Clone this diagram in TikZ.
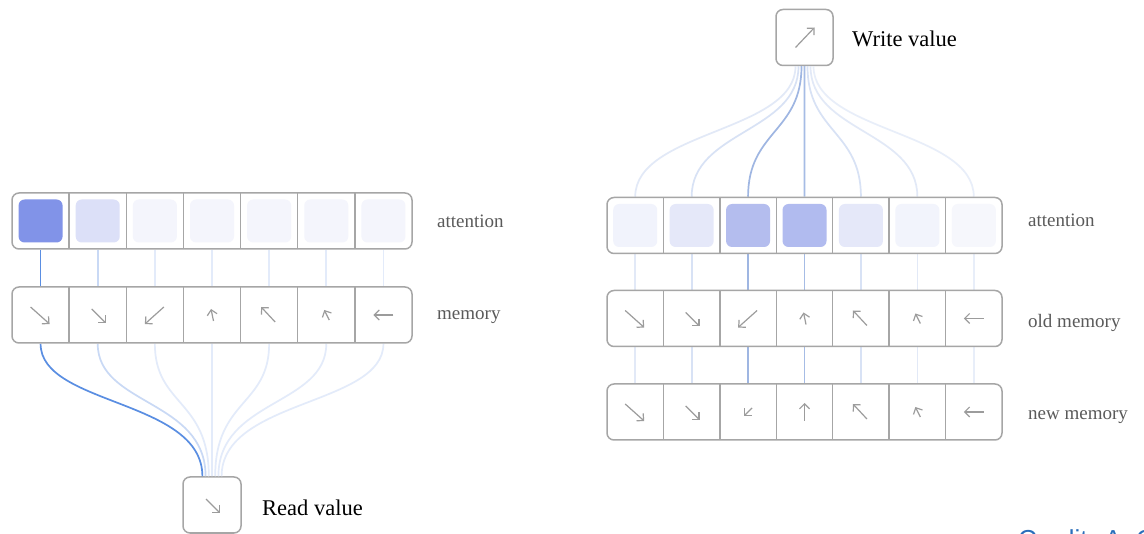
\documentclass[tikz,border=0pt]{standalone}
\usepackage{fontspec}
\setmainfont{Liberation Serif}
\newfontfamily\creditfont{Liberation Sans}
\usetikzlibrary{arrows.meta,calc}
\definecolor{boxgray}{HTML}{A6A6A6}
\definecolor{arrgray}{HTML}{9C9C9C}
\definecolor{labgray}{HTML}{5A5A5A}
\definecolor{creditblue}{HTML}{2A6EBB}
% left attention fills and lines
\definecolor{LA1}{HTML}{8193E8}
\definecolor{LA2}{HTML}{DCE0F8}
\definecolor{LA3}{HTML}{F4F5FC}
\definecolor{LA4}{HTML}{F4F5FC}
\definecolor{LA5}{HTML}{F4F5FC}
\definecolor{LA6}{HTML}{F4F5FC}
\definecolor{LA7}{HTML}{F4F5FC}
\definecolor{LL1}{HTML}{5A8EE2}
\definecolor{LL2}{HTML}{C9D9F5}
\definecolor{LL3}{HTML}{E3EBFA}
\definecolor{LL4}{HTML}{E3EBFA}
\definecolor{LL5}{HTML}{E3EBFA}
\definecolor{LL6}{HTML}{E3EBFA}
\definecolor{LL7}{HTML}{E3EBFA}
% right attention fills and lines
\definecolor{RA1}{HTML}{F1F3FC}
\definecolor{RA2}{HTML}{E5E8F9}
\definecolor{RA3}{HTML}{B4BDEE}
\definecolor{RA4}{HTML}{B1BBEF}
\definecolor{RA5}{HTML}{E5E8F9}
\definecolor{RA6}{HTML}{F2F4FC}
\definecolor{RA7}{HTML}{F6F7FC}
\definecolor{RL1}{HTML}{E2E9F7}
\definecolor{RL2}{HTML}{D8E2F5}
\definecolor{RL3}{HTML}{9FB6E2}
\definecolor{RL4}{HTML}{A6BCE5}
\definecolor{RL5}{HTML}{D8E2F5}
\definecolor{RL6}{HTML}{E2E9F7}
\definecolor{RL7}{HTML}{E8EEF9}
\begin{document}
\begin{tikzpicture}[x=1pt,y=-1pt,
  lcell/.style={inner sep=0pt,outer xsep=0pt,outer ysep=0.75pt,minimum width=57.143pt,minimum height=56pt},
  rcell/.style={inner sep=0pt,outer xsep=0pt,outer ysep=0.75pt,minimum width=56.43pt,minimum height=56pt},
  rowbox/.style={draw=boxgray,line width=1.5pt,rounded corners=7pt,inner sep=0pt,minimum height=56pt},
  sq/.style={rounded corners=6pt,minimum width=44pt,minimum height=43pt,inner sep=0pt},
  divider/.style={draw=boxgray,line width=1.5pt},
  conn/.style={line width=1.7pt},
  vec/.style={draw=arrgray,line width=1.2pt,-{Straight Barb[length=5pt,width=10pt]}},
  lab/.style={text=labgray,font=\fontsize{19}{22}\selectfont,anchor=base west,inner sep=0pt},
  valtext/.style={text=black,font=\fontsize{22.5}{26}\selectfont,anchor=base west,inner sep=0pt},
  valbox/.style={draw=boxgray,line width=1.5pt,rounded corners=7pt,fill=white,minimum width=57pt,minimum height=56pt,inner sep=0pt}]
\fill[white] (0,0) rectangle (1144,534);
\useasboundingbox (0,0) rectangle (1144,534);

% ---------------- left: reading ----------------
\foreach \i in {1,...,7}{
  \pgfmathsetmacro\cx{12+57.143*(\i-0.5)}
  \node[lcell] (La\i) at (\cx,221) {};
  \node[lcell] (Lm\i) at (\cx,315) {};
}
\node[valbox,minimum width=58pt] (read) at (212,505) {};
\foreach \i in {1,...,7}{
  \coordinate (rin\i) at ($(read.north)+({3.2*(\i-4)},0)$);
}
\foreach \i in {7,6,5,4,3,2,1}{
  \draw[conn,draw=LL\i] (La\i.south) -- (Lm\i.north);
  \draw[conn,draw=LL\i] (Lm\i.south) .. controls +(0,62) and +(0,-77) .. (rin\i);
}
\node[rowbox,minimum width=400pt] (Latt) at (212,221) {};
\node[rowbox,minimum width=400pt] (Lmem) at (212,315) {};
\foreach \i in {1,...,6}{
  \draw[divider] ([yshift=28pt]La\i.east) -- ([yshift=-28pt]La\i.east);
  \draw[divider] ([yshift=28pt]Lm\i.east) -- ([yshift=-28pt]Lm\i.east);
}
\foreach \i in {1,...,7}{
  \node[sq,fill=LA\i] (Laf\i) at (La\i) {};
}
\foreach \i/\ax/\ay/\bx/\by in {1/-10/-8/9/9, 2/-6/-6/8/8, 3/9/-8/-10/9, 4/1.5/6/-1/-6, 5/6/7/-8/-8, 6/3/5/-2/-5, 7/10/0/-10/0}{
  \draw[vec] ([shift={(\ax,\ay)}]Lm\i.center) -- ([shift={(\bx,\by)}]Lm\i.center);
}
\draw[vec] ([shift={(-6,-6)}]read.center) -- ([shift={(8,8)}]read.center);
\node[lab] (Lattlab) at (437,228) {attention};
\node[lab] (Lmemlab) at (437,320) {memory};
\node[valtext] (readlab) at (262,515) {Read value};

% ---------------- right: writing ----------------
\foreach \i in {1,...,7}{
  \pgfmathsetmacro\cx{607+56.43*(\i-0.5)}
  \node[rcell] (Ra\i) at (\cx,225.5) {};
  \node[rcell] (Ro\i) at (\cx,318.5) {};
  \node[rcell] (Rn\i) at (\cx,412) {};
}
\node[valbox] (write) at (804.5,37.5) {};
\foreach \i in {1,...,7}{
  \coordinate (win\i) at ($(write.south)+({3*(\i-4)},0)$);
}
\foreach \i in {7,1,6,2,5,4,3}{
  \draw[conn,draw=RL\i] (Ra\i.north) .. controls +(0,-66) and +(0,66) .. (win\i);
  \draw[conn,draw=RL\i] (Ra\i.south) -- (Ro\i.north);
  \draw[conn,draw=RL\i] (Ro\i.south) -- (Rn\i.north);
}
\node[rowbox,minimum width=395pt] (Ratt) at (804.5,225.5) {};
\node[rowbox,minimum width=395pt] (Rold) at (804.5,318.5) {};
\node[rowbox,minimum width=395pt] (Rnew) at (804.5,412) {};
\foreach \i in {1,...,6}{
  \draw[divider] ([yshift=28pt]Ra\i.east) -- ([yshift=-28pt]Ra\i.east);
  \draw[divider] ([yshift=28pt]Ro\i.east) -- ([yshift=-28pt]Ro\i.east);
  \draw[divider] ([yshift=28pt]Rn\i.east) -- ([yshift=-28pt]Rn\i.east);
}
\foreach \i in {1,...,7}{
  \node[sq,fill=RA\i] (Raf\i) at (Ra\i) {};
}
\foreach \i/\ax/\ay/\bx/\by in {1/-10/-8/9/9, 2/-6/-6/8/8, 3/9/-8/-10/9, 4/1.5/6/-1/-6, 5/6/7/-8/-8, 6/3/5/-2/-5, 7/10/0/-10/0}{
  \draw[vec] ([shift={(\ax,\ay)}]Ro\i.center) -- ([shift={(\bx,\by)}]Ro\i.center);
}
\foreach \i/\ax/\ay/\bx/\by in {1/-10/-8/9/9, 2/-6/-6/8/8, 3/4/-4/-4/4, 4/0/9/0/-9, 5/6/7/-8/-8, 6/3/5/-2/-5, 7/10/0/-10/0}{
  \draw[vec] ([shift={(\ax,\ay)}]Rn\i.center) -- ([shift={(\bx,\by)}]Rn\i.center);
}
\draw[vec] ([shift={(-9,10)}]write.center) -- ([shift={(10,-10)}]write.center);
\node[valtext] (writelab) at (852,47) {Write value};
\node[lab] (Rattlab) at (1028,227) {attention};
\node[lab] (Roldlab) at (1028,328) {old memory};
\node[lab] (Rnewlab) at (1028,420) {new memory};

% ---------------- cut-off credit line ----------------
\begin{scope}
  \clip (0,0) rectangle (1144,534);
  \node[anchor=base west,inner sep=0pt,text=creditblue,font=\creditfont\fontsize{26}{30}\selectfont] (credit) at (1018,548) {Credit: A. O};
\end{scope}
\end{tikzpicture}
\end{document}
